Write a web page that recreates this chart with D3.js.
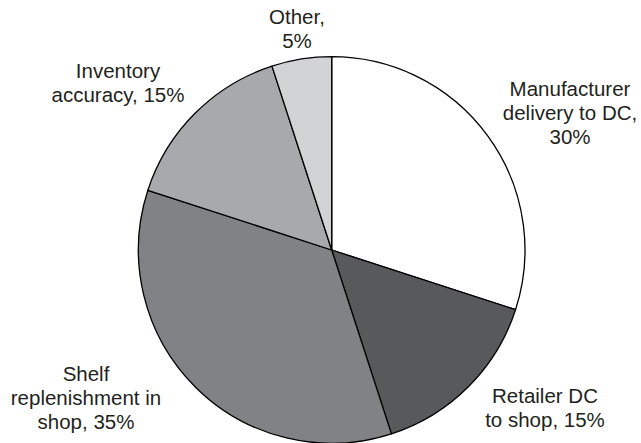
<!DOCTYPE html>
<html>
<head>
<meta charset="utf-8">
<script src="https://cdn.jsdelivr.net/npm/d3@7"></script>
<style>
  html, body { margin: 0; padding: 0; background: #fff; }
  svg { display: block; }
  text { font-family: "Liberation Sans", Arial, Helvetica, sans-serif; fill: #231f20; }
</style>
</head>
<body>
<div id="chart"></div>
<script>
// ---- data ----
const categories = ["Manufacturer delivery to DC", "Retailer DC to shop", "Shelf replenishment in shop", "Inventory accuracy", "Other"];
const values = [30, 15, 35, 15, 5];
const labelLines = [
  ["Manufacturer", "delivery to DC,", "30%"],
  ["Retailer DC", "to shop, 15%"],
  ["Shelf", "replenishment in", "shop, 35%"],
  ["Inventory", "accuracy, 15%"],
  ["Other,", "5%"]
];

// ---- layout (not data) ----
const width = 641, height = 443;
const cx = 331.7, cy = 250, radius = 193.3;
const fills = ["#ffffff", "#58595b", "#808285", "#a7a9ac", "#d1d3d4"];
// first-baseline anchor for each label block
const labelAnchor = [
  [570, 96], [545, 403], [86, 381], [118, 78], [297, 24]
];
const lineHeight = 24;

const svg = d3.select("#chart").append("svg")
  .attr("width", width).attr("height", height);

const color = d3.scaleOrdinal().domain(categories).range(fills);

const pie = d3.pie().sort(null).value(d => d.value).startAngle(0).endAngle(2 * Math.PI);
const arc = d3.arc().innerRadius(0).outerRadius(radius);

const data = categories.map((c, i) => ({ name: c, value: values[i], lines: labelLines[i] }));

const g = svg.append("g").attr("transform", `translate(${cx},${cy})`);
g.selectAll("path.slice")
  .data(pie(data))
  .join("path")
  .attr("class", "slice")
  .attr("d", arc)
  .attr("fill", d => color(d.data.name))
  .attr("stroke", "#000")
  .attr("stroke-width", 1.3)
  .attr("stroke-linejoin", "round");

const labels = svg.selectAll("text.label")
  .data(data)
  .join("text")
  .attr("class", "label")
  .attr("text-anchor", "middle")
  .attr("font-size", 20.5);

labels.each(function(d, i) {
  const t = d3.select(this);
  d.lines.forEach((line, j) => {
    t.append("tspan")
      .attr("x", labelAnchor[i][0])
      .attr("y", labelAnchor[i][1] + j * lineHeight)
      .text(line);
  });
});
</script>
</body>
</html>
